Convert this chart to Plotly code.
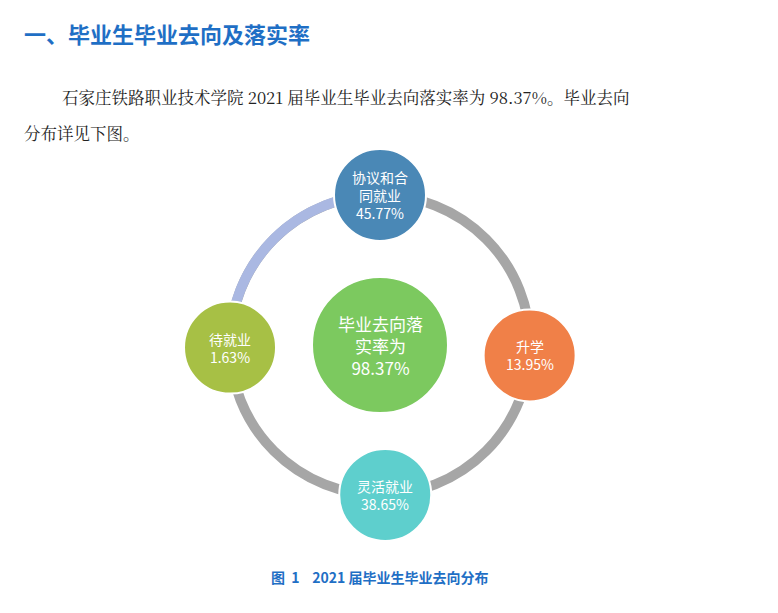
import numpy as np
import plotly.graph_objects as go

# Data
categories = ["协议和合<br>同就业", "升学", "灵活就业", "待就业"]
shares = [45.77, 13.95, 38.65, 1.63]
node_colors = ["#4a88b6", "#f08048", "#5ecfcd", "#a7c045"]
node_angles = [90, -4, -88, 181]
total_rate = 98.37

W, H = 778, 613
OFF = 8  # page body margin
CX, CY, R = 380, 345, 150
FONT = "Noto Sans CJK SC"

fig = go.Figure()

# ring: gray full circle + light blue arc in the upper-left
fig.add_shape(type="circle", x0=CX - R, x1=CX + R, y0=CY - R, y1=CY + R,
              line=dict(color="#a6a6a6", width=10), layer="below")
t2 = np.radians(np.linspace(95, 175, 60))
arc = "M " + " L ".join(f"{CX + R * np.cos(a):.2f},{CY - R * np.sin(a):.2f}" for a in t2)
fig.add_shape(type="path", path=arc, line=dict(color="#aab8e2", width=10), layer="below")

# outer nodes
for cat, val, col, ang in zip(categories, shares, node_colors, node_angles):
    a = np.radians(ang)
    x, y = CX + R * np.cos(a), CY - R * np.sin(a)
    fig.add_shape(type="circle", x0=x - 46, x1=x + 46, y0=y - 46, y1=y + 46,
                  fillcolor=col, line=dict(color="white", width=2), layer="above")
    fig.add_annotation(x=x, y=y, text=f"{cat}<br>{val:.2f}%", showarrow=False,
                       font=dict(family=FONT, size=14, color="white"))

# center node
fig.add_shape(type="circle", x0=CX - 68, x1=CX + 68, y0=CY - 68, y1=CY + 68,
              fillcolor="#7cc95f", line=dict(color="white", width=2), layer="above")
fig.add_annotation(x=CX, y=CY, text=f"毕业去向落<br>实率为<br>{total_rate:.2f}%",
                   showarrow=False, font=dict(family=FONT, size=17, color="white"))

# document text
fig.add_annotation(x=22, y=33, xanchor="left", text="<b>一、毕业生毕业去向及落实率</b>",
                   showarrow=False, font=dict(family=FONT, size=22, color="#1f6fc5"))
fig.add_annotation(x=60, y=97, xanchor="left",
                   text=f"石家庄铁路职业技术学院 2021 届毕业生毕业去向落实率为 {total_rate:.2f}%。毕业去向",
                   showarrow=False, font=dict(family="Noto Serif CJK SC, Noto Sans CJK SC", size=16.5, color="#222"))
fig.add_annotation(x=22, y=133, xanchor="left", text="分布详见下图。",
                   showarrow=False, font=dict(family="Noto Serif CJK SC, Noto Sans CJK SC", size=16.5, color="#222"))
fig.add_annotation(x=380, y=577, text="<b>图  1    2021 届毕业生毕业去向分布</b>",
                   showarrow=False, font=dict(family=FONT, size=14, color="#1f6fc5"))

fig.update_layout(width=W, height=H, margin=dict(l=0, r=0, t=0, b=0),
                  paper_bgcolor="white", plot_bgcolor="white", showlegend=False,
                  xaxis=dict(range=[OFF, W + OFF], visible=False, fixedrange=True),
                  yaxis=dict(range=[H + OFF, OFF], visible=False, fixedrange=True))
fig.write_html("out.html")
